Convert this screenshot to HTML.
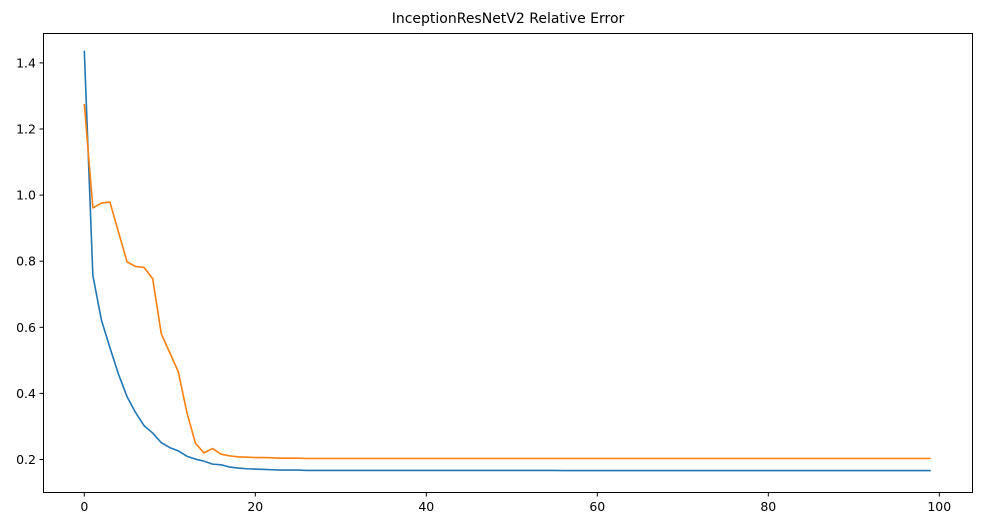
<!DOCTYPE html>
<html><head><meta charset="utf-8"><style>
body{margin:0;background:#fff;width:981px;height:526px;overflow:hidden;font-family:"DejaVu Sans","Liberation Sans",sans-serif}
</style></head><body>
<svg id="chart" width="981" height="526" xmlns="http://www.w3.org/2000/svg">
<text x="508" y="23" text-anchor="middle" font-size="14" fill="#000">InceptionResNetV2 Relative Error</text>
<g id="plot"></g>
<rect x="43.5" y="33.5" width="929" height="459" fill="none" stroke="#000" stroke-width="1"/>
</svg>
<script>
const xTicks=[0,20,40,60,80,100];
const yTicks=[0.2,0.4,0.6,0.8,1.0,1.2,1.4];
const yTickLabels=["0.2","0.4","0.6","0.8","1.0","1.2","1.4"];
const seriesBlue=[1.437,0.757,0.622,0.538,0.458,0.390,0.342,0.302,0.280,0.251,0.236,0.226,0.210,0.201,0.195,0.186,0.184,0.177,0.174,0.172,0.171,0.170,0.169,0.168,0.168,0.168,0.167,0.167,0.167,0.167,
0.167,0.167,0.167,0.167,0.167,0.167,0.167,0.167,0.167,0.167,0.167,0.167,0.167,0.167,0.167,0.167,0.167,0.167,0.167,0.167,
0.167,0.167,0.167,0.167,0.167,0.167,0.1665,0.1665,0.1665,0.1665,0.1665,0.1665,0.1665,0.1665,0.1665,0.1665,0.1665,0.1665,0.1665,0.1665,
0.1665,0.1665,0.1665,0.1665,0.1665,0.1665,0.1665,0.1665,0.1665,0.1665,0.1665,0.1665,0.1665,0.1665,0.1665,0.1665,0.1665,0.1665,0.1665,0.1665,
0.1665,0.1665,0.1665,0.1665,0.1665,0.1665,0.1665,0.1665,0.1665,0.1665];
const seriesOrange=[1.276,0.961,0.976,0.979,0.888,0.798,0.784,0.781,0.747,0.581,0.523,0.465,0.342,0.249,0.220,0.233,0.216,0.211,0.208,0.207,0.206,0.206,0.205,0.204,0.204,0.204,0.203,0.203,0.203,0.203,
0.203,0.203,0.203,0.203,0.203,0.203,0.203,0.203,0.203,0.203,0.203,0.203,0.203,0.203,0.203,0.203,0.203,0.203,0.203,0.203,
0.203,0.203,0.203,0.203,0.203,0.203,0.203,0.203,0.203,0.203,0.203,0.203,0.203,0.203,0.203,0.203,0.203,0.203,0.203,0.203,
0.203,0.203,0.203,0.203,0.203,0.203,0.203,0.203,0.203,0.203,0.203,0.203,0.203,0.203,0.203,0.203,0.203,0.203,0.203,0.203,
0.203,0.203,0.203,0.203,0.203,0.203,0.203,0.203,0.203,0.203];
const NS="http://www.w3.org/2000/svg";
const g=document.getElementById('plot');
function xs(i){return 84.3+i*8.55;}
function ys(v){return 459.5-(v-0.2)*330.5;}
function mk(t,a){const e=document.createElementNS(NS,t);for(const k in a)e.setAttribute(k,a[k]);g.appendChild(e);return e;}
xTicks.forEach(t=>{
  const l=mk('line',{x1:xs(t),x2:xs(t),y1:493,y2:496.5,stroke:'#000'});
  
  
  const tx=mk('text',{x:xs(t),y:511,'text-anchor':'middle','font-size':'12.5',fill:'#000'});
  tx.textContent=t;
  
  
});
yTicks.forEach((t,i)=>{
  const l=mk('line',{x1:39.5,x2:43,y1:ys(t),y2:ys(t),stroke:'#000'});
  
  
  const tx=mk('text',{x:36,y:ys(t)+4.5,'text-anchor':'end','font-size':'12.5',fill:'#000'});
  tx.textContent=yTickLabels[i];
  
  
});
function line(arr,color,name){
  const p=mk('polyline',{points:arr.map((v,i)=>xs(i)+','+ys(v)).join(' '),fill:'none',stroke:color,'stroke-width':'1.6','stroke-linejoin':'round'});
  
  
}
line(seriesBlue,'#1f77b4','blue-series-line');
line(seriesOrange,'#ff7f0e','orange-series-line');
</script>
</body></html>
